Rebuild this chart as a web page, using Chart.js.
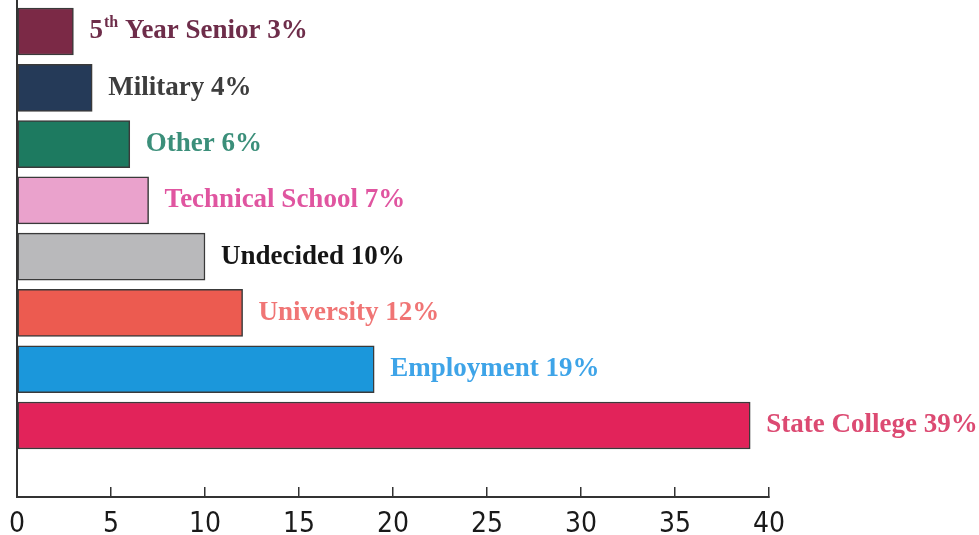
<!DOCTYPE html>
<html>
<head>
<meta charset="utf-8">
<script src="https://cdn.jsdelivr.net/npm/chart.js@4.4.1/dist/chart.umd.min.js"></script>
<style>
  html, body { margin: 0; padding: 0; background: #fff; }
  #wrap { width: 979px; height: 535px; }
</style>
</head>
<body>
<div id="wrap"><canvas id="planChart"></canvas></div>
<script>
// data
const categories = ['5th Year Senior', 'Military', 'Other', 'Technical School', 'Undecided', 'University', 'Employment', 'State College'];
const percents = [3, 4, 6, 7, 10, 12, 19, 39];
const xTicks = [0, 5, 10, 15, 20, 25, 30, 35, 40];

// colours
const barColors = ['#7b2946', '#253a58', '#1d7a60', '#eaa2cc', '#b9b9bb', '#ec5b50', '#1b97db', '#e2235a'];
const labelColors = ['#6e2d4a', '#3d3d3d', '#3b8f7a', '#e055a0', '#151515', '#f07575', '#3ea4e8', '#dc4a72'];

const labelFont = size => `bold ${size}px "Liberation Serif", "DejaVu Serif", serif`;

// text at the end of each bar
const barLabels = {
  id: 'barLabels',
  afterDatasetsDraw(chart) {
    const ctx = chart.ctx;
    const meta = chart.getDatasetMeta(0);
    ctx.save();
    ctx.textBaseline = 'middle';
    ctx.textAlign = 'left';
    meta.data.forEach((bar, i) => {
      const text = categories[i] + ' ' + percents[i] + '%';
      let x = bar.x + 16;
      const y = bar.y;
      ctx.fillStyle = labelColors[i];
      const m = text.match(/^(\d+)(st|nd|rd|th)(.*)$/);
      if (m) {
        ctx.font = labelFont(27);
        ctx.fillText(m[1], x, y);
        x += ctx.measureText(m[1]).width + 1;
        ctx.font = labelFont(16);
        ctx.fillText(m[2], x, y - 9);
        x += ctx.measureText(m[2]).width;
        ctx.font = labelFont(27);
        ctx.fillText(m[3], x, y);
      } else {
        ctx.font = labelFont(27);
        ctx.fillText(text, x, y);
      }
    });
    ctx.restore();
  }
};

new Chart(document.getElementById('planChart'), {
  type: 'bar',
  data: {
    datasets: [{
      data: percents.map((v, i) => ({ x: v, y: i })),
      backgroundColor: barColors,
      borderColor: '#3a3a3a',
      borderWidth: 1.5,
      borderSkipped: false,
      barThickness: 47
    }]
  },
  options: {
    indexAxis: 'y',
    responsive: true,
    maintainAspectRatio: false,
    animation: false,
    layout: { padding: { left: 17, right: 210, top: 0, bottom: 0 } },
    plugins: {
      legend: { display: false },
      tooltip: { enabled: false }
    },
    scales: {
      x: {
        type: 'linear',
        min: xTicks[0],
        max: xTicks[xTicks.length - 1],
        afterFit: s => { s.height = 38; s.paddingLeft = 0; s.paddingRight = 0; },
        ticks: {
          stepSize: xTicks[1] - xTicks[0],
          color: '#1a1a1a',
          padding: 21,
          font: { family: '"DejaVu Sans Condensed", "Liberation Sans Narrow", sans-serif', size: 28 }
        },
        grid: {
          drawOnChartArea: false,
          drawTicks: true,
          tickLength: -10,
          color: '#333',
          lineWidth: 1.5
        },
        border: { color: '#333', width: 2 }
      },
      y: {
        type: 'linear',
        reverse: true,
        bounds: 'data',
        offset: false,
        min: -0.56,
        max: 8.27,
        afterFit: s => { s.width = 0; },
        ticks: { display: false, stepSize: 1 },
        grid: { display: false, drawTicks: false },
        border: { color: '#333', width: 2 }
      }
    }
  },
  plugins: [barLabels]
});
</script>
</body>
</html>
